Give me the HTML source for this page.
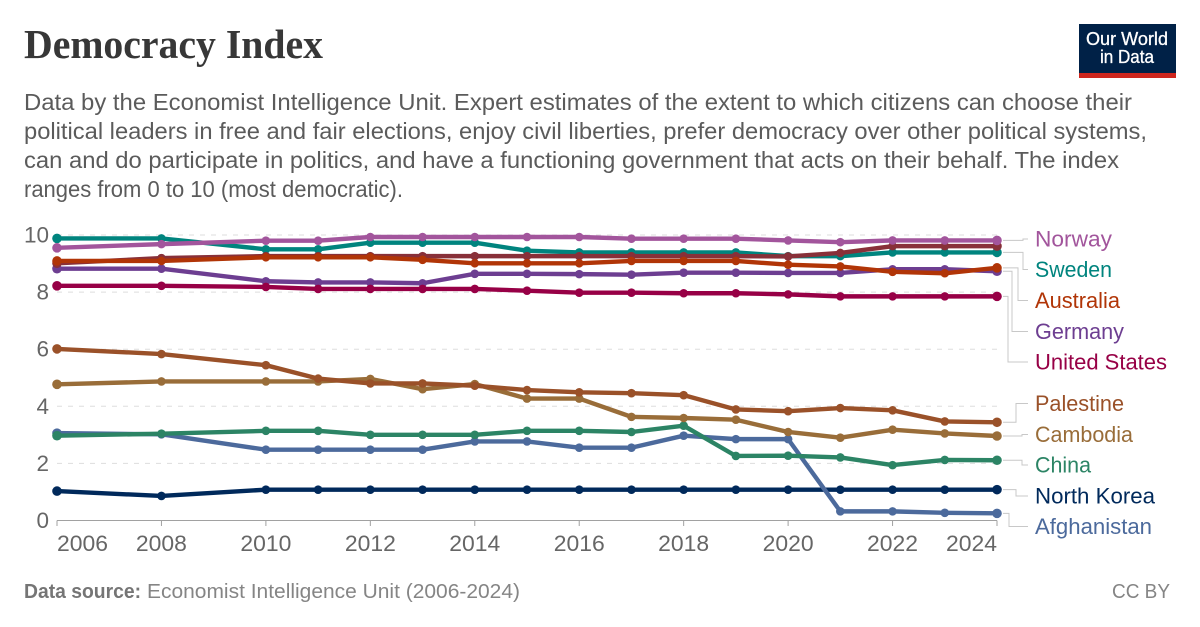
<!DOCTYPE html>
<html lang="en">
<head>
<meta charset="utf-8">
<title>Democracy Index</title>
<style>
html,body{margin:0;padding:0;background:#fff;}
svg{display:block;font-family:"Liberation Sans",Arial,sans-serif;}
</style>
</head>
<body>
<svg id="chart" xmlns="http://www.w3.org/2000/svg" width="1200" height="627" viewBox="0 0 1200 627">
  <rect width="1200" height="627" fill="#fff"/>
  <text x="24" y="58" font-family="'Liberation Serif',serif" font-weight="700" font-size="41" fill="#373737" textLength="299" lengthAdjust="spacingAndGlyphs">Democracy Index</text>
  <g font-size="23.5" fill="#5b5b5b">
    <text x="24" y="110" textLength="1108" lengthAdjust="spacingAndGlyphs">Data by the Economist Intelligence Unit. Expert estimates of the extent to which citizens can choose their</text>
    <text x="24" y="139" textLength="1123" lengthAdjust="spacingAndGlyphs">political leaders in free and fair elections, enjoy civil liberties, prefer democracy over other political systems,</text>
    <text x="24" y="168" textLength="1095" lengthAdjust="spacingAndGlyphs">can and do participate in politics, and have a functioning government that acts on their behalf. The index</text>
    <text x="24" y="197" textLength="379" lengthAdjust="spacingAndGlyphs">ranges from 0 to 10 (most democratic).</text>
  </g>
  <g>
    <rect x="1079" y="24" width="97" height="54" fill="#002147"/>
    <rect x="1079" y="73" width="97" height="5" fill="#ce261e"/>
    <text x="1086" y="45" font-size="18" font-weight="400" stroke="#fff" stroke-width="0.3" fill="#fff" textLength="82" lengthAdjust="spacingAndGlyphs">Our World</text>
    <text x="1100" y="63" font-size="18" font-weight="400" stroke="#fff" stroke-width="0.3" fill="#fff" textLength="54" lengthAdjust="spacingAndGlyphs">in Data</text>
  </g>
  <g id="grid"></g>
  <g id="axes"></g>
  <g id="series"></g>
  <g id="labels"></g>
  <g font-size="20" fill="#858585">
    <text x="24" y="598" font-weight="700" fill="#757575" textLength="117" lengthAdjust="spacingAndGlyphs">Data source:</text>
    <text x="147" y="598" textLength="373" lengthAdjust="spacingAndGlyphs">Economist Intelligence Unit (2006-2024)</text>
    <text x="1112" y="598" textLength="58" lengthAdjust="spacingAndGlyphs">CC BY</text>
  </g>
</svg>
<script>
const years = [2006,2008,2010,2011,2012,2013,2014,2015,2016,2017,2018,2019,2020,2021,2022,2023,2024];
const xTickYears = [2006,2008,2010,2012,2014,2016,2018,2020,2022,2024];
const yTickValues = [0,2,4,6,8,10];

const northKorea = [1.03,0.86,1.08,1.08,1.08,1.08,1.08,1.08,1.08,1.08,1.08,1.08,1.08,1.08,1.08,1.08,1.08];
const afghanistan = [3.06,3.02,2.48,2.48,2.48,2.48,2.77,2.77,2.55,2.55,2.97,2.85,2.85,0.32,0.32,0.27,0.25];
const china = [2.97,3.04,3.14,3.14,3.00,3.00,3.00,3.14,3.14,3.10,3.32,2.26,2.27,2.21,1.94,2.12,2.11];
const cambodia = [4.77,4.87,4.87,4.87,4.96,4.60,4.78,4.27,4.27,3.63,3.59,3.53,3.10,2.90,3.18,3.05,2.96];
const palestine = [6.01,5.83,5.44,4.97,4.80,4.80,4.72,4.57,4.49,4.46,4.39,3.89,3.83,3.94,3.86,3.47,3.44];
const germany = [8.82,8.82,8.38,8.34,8.34,8.31,8.64,8.64,8.63,8.61,8.68,8.68,8.67,8.67,8.80,8.80,8.73];
const unitedStates = [8.22,8.22,8.18,8.11,8.11,8.11,8.11,8.05,7.98,7.98,7.96,7.96,7.92,7.85,7.85,7.85,7.85];
const sweden = [9.88,9.88,9.50,9.50,9.73,9.73,9.73,9.45,9.39,9.39,9.39,9.39,9.26,9.26,9.39,9.39,9.39];
const newZealand = [9.01,9.19,9.26,9.26,9.26,9.26,9.26,9.26,9.26,9.26,9.26,9.26,9.25,9.37,9.61,9.61,9.61];
const australia = [9.09,9.09,9.22,9.22,9.22,9.13,9.01,9.01,9.01,9.09,9.09,9.09,8.96,8.90,8.71,8.66,8.85];
const norway = [9.55,9.68,9.80,9.80,9.93,9.93,9.93,9.93,9.93,9.87,9.87,9.87,9.81,9.75,9.81,9.81,9.81];

const SVG_NS = 'http://www.w3.org/2000/svg';
const xScale = function (year) { return 57 + (year - 2006) * (940 / 18); };
const yScale = function (value) { return 520.5 - value * 28.55; };

function make(tag, attrs, parent) {
  const el = document.createElementNS(SVG_NS, tag);
  for (const k in attrs) el.setAttribute(k, attrs[k]);
  parent.appendChild(el);
  return el;
}

const gridG = document.getElementById('grid');
const axesG = document.getElementById('axes');
const seriesG = document.getElementById('series');
const labelsG = document.getElementById('labels');

yTickValues.forEach(function (v) {
  if (v !== 0) {
    const g = make('line', {x1: 57, x2: 997, y1: yScale(v), y2: yScale(v), stroke: '#dddddd', 'stroke-width': 1, 'stroke-dasharray': '5,6'}, gridG);
    
    
  }
  const t = make('text', {x: 49, y: yScale(v) + 7.5, 'text-anchor': 'end', 'font-size': 22.5, fill: '#666666'}, axesG);
  t.textContent = String(v);
  
  
});

const axisLine = make('line', {x1: 57, x2: 997, y1: 520.5, y2: 520.5, stroke: '#a1a1a1', 'stroke-width': 1}, axesG);



xTickYears.forEach(function (yr, i) {
  const x = xScale(yr);
  const tick = make('line', {x1: x, x2: x, y1: 520.5, y2: 526, stroke: '#a1a1a1', 'stroke-width': 1}, axesG);
  
  
  const anchorX = i === 0 ? x : (i === xTickYears.length - 1 ? x - 51 : x - 25.5);
  const t = make('text', {x: anchorX, y: 551, 'font-size': 22.5, fill: '#666666', textLength: 51, lengthAdjust: 'spacingAndGlyphs'}, axesG);
  t.textContent = String(yr);
  
  
});

const seriesList = [
  {key: 'north-korea', label: 'North Korea', values: northKorea, color: '#00295b', labelY: 496, midX: 1016, width: 120},
  {key: 'afghanistan', label: 'Afghanistan', values: afghanistan, color: '#4c6a9c', labelY: 526.5, midX: 1009, width: 117},
  {key: 'china', label: 'China', values: china, color: '#2c8465', labelY: 465, midX: 1022, width: 56},
  {key: 'cambodia', label: 'Cambodia', values: cambodia, color: '#996d39', labelY: 434.5, midX: 1022, width: 98},
  {key: 'palestine', label: 'Palestine', values: palestine, color: '#9a5129', labelY: 403.5, midX: 1016, width: 89},
  {key: 'germany', label: 'Germany', values: germany, color: '#6d3e91', labelY: 331.5, midX: 1012, width: 89},
  {key: 'united-states', label: 'United States', values: unitedStates, color: '#970046', labelY: 362, midX: 1008, width: 132},
  {key: 'sweden', label: 'Sweden', values: sweden, color: '#00847e', labelY: 269.5, midX: 1023, width: 77},
  {key: 'new-zealand', label: null, values: newZealand, color: '#883039'},
  {key: 'australia', label: 'Australia', values: australia, color: '#b13507', labelY: 300.5, midX: 1018, width: 85},
  {key: 'norway', label: 'Norway', values: norway, color: '#a2559c', labelY: 239, midX: 1023, width: 77}
];

seriesList.forEach(function (s) {
  const g = make('g', {}, seriesG);
  
  
  const pts = s.values.map(function (v, i) { return xScale(years[i]) + ',' + yScale(v); }).join(' ');
  const line = make('polyline', {points: pts, fill: 'none', stroke: s.color, 'stroke-width': 4.4, 'stroke-linejoin': 'round'}, g);
  
  
  s.values.forEach(function (v, i) {
    const last = i === 0 || i === s.values.length - 1;
    const dot = make('circle', {cx: xScale(years[i]), cy: yScale(v), r: last ? 4.8 : 4.3, fill: s.color}, g);
    
    
  });
});

seriesList.forEach(function (s) {
  if (!s.label) return;
  const startY = yScale(s.values[s.values.length - 1]);
  const conn = make('polyline', {points: '1003,' + startY + ' ' + s.midX + ',' + startY + ' ' + s.midX + ',' + s.labelY + ' 1028,' + s.labelY, fill: 'none', stroke: '#c8c8c8', 'stroke-width': 1}, labelsG);
  
  
  const t = make('text', {x: 1035, y: s.labelY + 7.5, 'font-size': 22.5, fill: s.color, textLength: s.width, lengthAdjust: 'spacingAndGlyphs'}, labelsG);
  t.textContent = s.label;
  
  
});
</script>
</body>
</html>
